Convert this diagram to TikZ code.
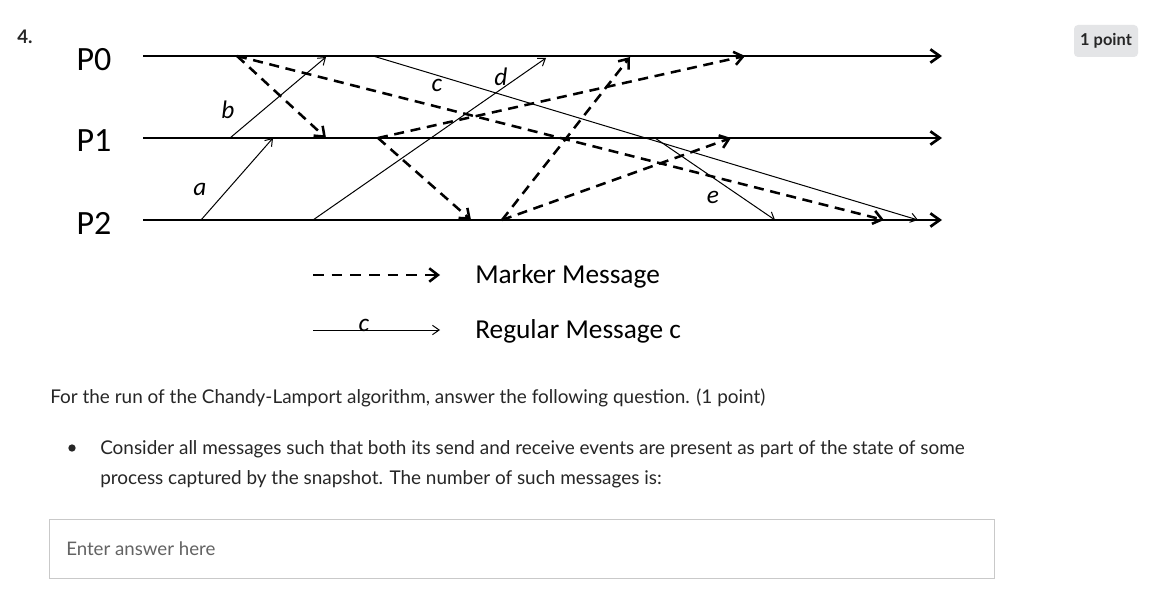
\documentclass[tikz,border=0pt]{standalone}
\usepackage{fontspec}
\setmainfont{Lato}
\newfontfamily\calib{Carlito}
\usetikzlibrary{arrows.meta}
\definecolor{txt}{HTML}{262626}
\definecolor{hint}{HTML}{636363}
\definecolor{boxline}{HTML}{C9C9C9}
\definecolor{tagfill}{HTML}{E4E5E7}
\begin{document}
\begin{tikzpicture}[x=0.75pt,y=-0.75pt,
  timeline/.style={line width=2pt,-{Straight Barb[length=7pt,width=10pt]}},
  msg/.style={line width=0.75pt,-{Straight Barb[length=5pt,width=7pt]}},
  marker/.style={line width=1.9pt,dash pattern=on 7.5pt off 5pt,-{Straight Barb[length=6.5pt,width=10pt]}},
  proc/.style={font=\calib\fontsize{25.5}{30}\selectfont},
  lbl/.style={font=\calib\itshape\fontsize{19}{22}\selectfont,inner sep=0pt},
  legend/.style={font=\calib\fontsize{20.5}{24}\selectfont,anchor=west,inner sep=0pt},
  body/.style={font=\fontsize{14.2}{17}\selectfont,text=txt,anchor=base west,inner sep=0pt},
]
\useasboundingbox (0,0) rectangle (1170,595);
\fill[white] (0,0) rectangle (1170,595);

% question number and points tag
\node[font=\bfseries\fontsize{14}{16}\selectfont,text=txt,anchor=base west,inner sep=0pt] (num) at (17,44) {4.};
\node[fill=tagfill,rounded corners=3pt,inner sep=0pt,minimum height=32*0.75pt,minimum width=64*0.75pt,font=\bfseries\fontsize{12.3}{14}\selectfont,text=txt] (tag) at (1106,41) {1 point};

% process labels
\node[proc] (P0) at (94,60) {P0};
\node[proc] (P1) at (94,141) {P1};
\node[proc] (P2) at (94,223) {P2};

% timelines
\coordinate (t0s) at (143,56);  \coordinate (t0e) at (942,56);
\coordinate (t1s) at (143,138); \coordinate (t1e) at (942,138);
\coordinate (t2s) at (143,220); \coordinate (t2e) at (942,220);
\draw[timeline] (t0s) -- (t0e);
\draw[timeline] (t1s) -- (t1e);
\draw[timeline] (t2s) -- (t2e);

% events
\coordinate (a1) at (201,220); \coordinate (a2) at (273,138);
\coordinate (b1) at (230,138); \coordinate (b2) at (326,57);
\coordinate (c1) at (373,56);  \coordinate (c2) at (918,220);
\coordinate (d1) at (313,220); \coordinate (d2) at (546,58);
\coordinate (e1) at (655,138); \coordinate (e2) at (775,220);

\coordinate (s0) at (237,56);
\coordinate (s1) at (378,138);
\coordinate (s2) at (502,220);
\coordinate (r01) at (326,138);
\coordinate (r02) at (884,220);
\coordinate (r12) at (471,220);
\coordinate (r10) at (745,56);
\coordinate (r20) at (630,57);
\coordinate (r21) at (731,138);

% regular messages
\draw[msg] (a1) -- (a2);
\draw[msg] (b1) -- (b2);
\draw[msg] (c1) -- (c2);
\draw[msg] (d1) -- (d2);
\draw[msg] (e1) -- (e2);

% markers
\draw[marker] (s0) -- (r01);
\draw[marker] (s0) -- (r02);
\draw[marker] (s1) -- (r12);
\draw[marker] (s1) -- (r10);
\draw[marker] (s2) -- (r20);
\draw[marker] (s2) -- (r21);

% message labels
\node[lbl] (la) at (200,189) {a};
\node[lbl] (lb) at (228,110) {b};
\node[lbl] (lc) at (437,85) {c};
\node[lbl] (ld) at (501,77) {d};
\node[lbl] (le) at (713,197) {e};

% legend
\coordinate (lm1) at (313,275); \coordinate (lm2) at (440,275);
\coordinate (lr1) at (313,330); \coordinate (lr2) at (440,330);
\draw[marker,dash pattern=on 8pt off 6pt] (lm1) -- (lm2);
\draw[msg] (lr1) -- (lr2);
\node[lbl,anchor=base] (lcc) at (364,331) {c};
\node[legend] (lmt) at (475,276) {Marker Message};
\node[legend] (lrt) at (475,331) {Regular Message c};

% question text
\node[body] (q1) at (50,403) {For the run of the Chandy-Lamport algorithm, answer the following question. (1 point)};
\node[circle,fill=txt,inner sep=0pt,minimum size=5.5pt] (bul) at (72,448) {};
\node[body] (q2) at (100,454) {Consider all messages such that both its send and receive events are present as part of the state of some};
\node[body] (q3) at (100,484) {process captured by the snapshot. The number of such messages is:};

% answer box
\draw[boxline,line width=0.75pt] (49,519) rectangle (994,578);
\node[body,text=hint,font=\fontsize{14}{17}\selectfont] (ans) at (66,555) {Enter answer here};
\end{tikzpicture}
\end{document}
